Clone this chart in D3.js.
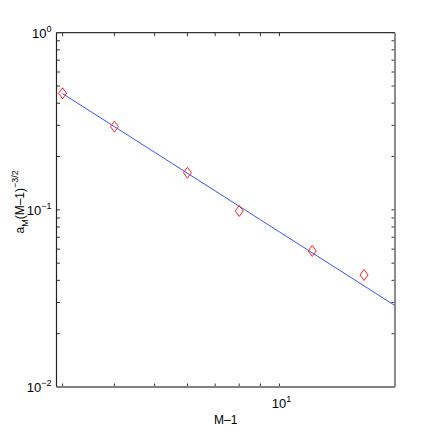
<!DOCTYPE html>
<html>
<head>
<meta charset="utf-8">
<script src="https://cdn.jsdelivr.net/npm/d3@7"></script>
<style>
  body { margin: 0; background: #fff; }
  text { font-family: "Liberation Sans", Arial, sans-serif; }
</style>
</head>
<body>
<div id="chart"></div>
<script>
// data
const mMinus1 = [3, 4, 6, 8, 12, 16];
const aScaled = [0.455, 0.295, 0.162, 0.0986, 0.0586, 0.0429];
// fitted line endpoints
const fitX = [3, 19];
const fitY = [0.453, 0.0288];
// axis ticks
const xTicks = [3, 4, 5, 6, 7, 8, 9, 10];
const xLabels = [10];
const yTicks = [];
[0.01, 0.1].forEach(d => { for (let k = 1; k < 10; k++) yTicks.push(d * k); });
yTicks.push(1);
const yLabels = [0.01, 0.1, 1];

const width = 436, height = 436;
const marginLeft = 56.5, marginRight = 41, marginTop = 32.7, marginBottom = 49;

const x = d3.scaleLog().domain([2.9, 19]).range([marginLeft, width - marginRight]);
const y = d3.scaleLog().domain([0.01, 1]).range([height - marginBottom, marginTop]);

const svg = d3.select("#chart").append("svg")
    .attr("width", width)
    .attr("height", height);

const x0 = x.range()[0], x1 = x.range()[1];
const y0 = y.range()[0], y1 = y.range()[1];
const tick = 3.5;

// tick marks, inward on all four sides
const ticks = svg.append("g").attr("stroke", "#333").attr("stroke-width", 1);
xTicks.forEach(t => {
  ticks.append("line").attr("x1", x(t)).attr("x2", x(t)).attr("y1", y0).attr("y2", y0 - tick);
  ticks.append("line").attr("x1", x(t)).attr("x2", x(t)).attr("y1", y1).attr("y2", y1 + tick);
});
yTicks.forEach(t => {
  ticks.append("line").attr("y1", y(t)).attr("y2", y(t)).attr("x1", x0).attr("x2", x0 + tick);
  ticks.append("line").attr("y1", y(t)).attr("y2", y(t)).attr("x1", x1).attr("x2", x1 - tick);
});

// box
svg.append("line").attr("x1", x0).attr("x2", x1).attr("y1", y1).attr("y2", y1)
    .attr("stroke", "#333").attr("stroke-width", 1.2);
svg.append("line").attr("x1", x0).attr("x2", x0).attr("y1", y1).attr("y2", y0)
    .attr("stroke", "#222").attr("stroke-width", 1.2);
svg.append("line").attr("x1", x0).attr("x2", x1).attr("y1", y0).attr("y2", y0)
    .attr("stroke", "#808080").attr("stroke-width", 1.8);
svg.append("line").attr("x1", x1).attr("x2", x1).attr("y1", y1).attr("y2", y0)
    .attr("stroke", "#808080").attr("stroke-width", 1.8);

// power labels
function power(sel, v) {
  const e = Math.round(Math.log10(v));
  sel.append("tspan").text("10");
  sel.append("tspan").attr("font-size", 9).attr("dy", -6).text(e < 0 ? "\u2212" + (-e) : e);
}

yLabels.forEach(v => {
  svg.append("text")
      .attr("x", x0 - 5)
      .attr("y", y(v) + 5)
      .attr("text-anchor", "end")
      .attr("font-size", 13)
      .call(power, v);
});
xLabels.forEach(v => {
  svg.append("text")
      .attr("x", x(v) + 2)
      .attr("y", y0 + 21)
      .attr("text-anchor", "middle")
      .attr("font-size", 13)
      .call(power, v);
});

// axis titles
svg.append("text")
    .attr("x", (x0 + x1) / 2)
    .attr("y", y0 + 37)
    .attr("text-anchor", "middle")
    .attr("font-size", 12)
    .text("M\u20131");

const yl = svg.append("text")
    .attr("transform", `translate(24,${(y0 + y1) / 2 - 8}) rotate(-90)`)
    .attr("text-anchor", "middle")
    .attr("font-size", 12);
yl.append("tspan").text("a");
yl.append("tspan").attr("font-size", 9).attr("dy", 4).text("M");
yl.append("tspan").attr("dy", -4).text("(M\u20131)");
yl.append("tspan").attr("font-size", 9).attr("dy", -6).text("\u22123/2");

// fit line
const line = d3.line().x(d => x(d[0])).y(d => y(d[1]));
svg.append("path")
    .datum(d3.zip(fitX, fitY))
    .attr("fill", "none")
    .attr("stroke", "#3355ff")
    .attr("stroke-width", 1)
    .attr("d", line);

// diamonds
const diamond = "M0,-5.5L4,0L0,5.5L-4,0Z";
svg.append("g")
    .attr("fill", "none")
    .attr("stroke", "#ff2020")
    .attr("stroke-width", 1)
  .selectAll("path")
  .data(d3.zip(mMinus1, aScaled))
  .join("path")
    .attr("transform", d => `translate(${x(d[0])},${y(d[1])})`)
    .attr("d", diamond);
</script>
</body>
</html>
